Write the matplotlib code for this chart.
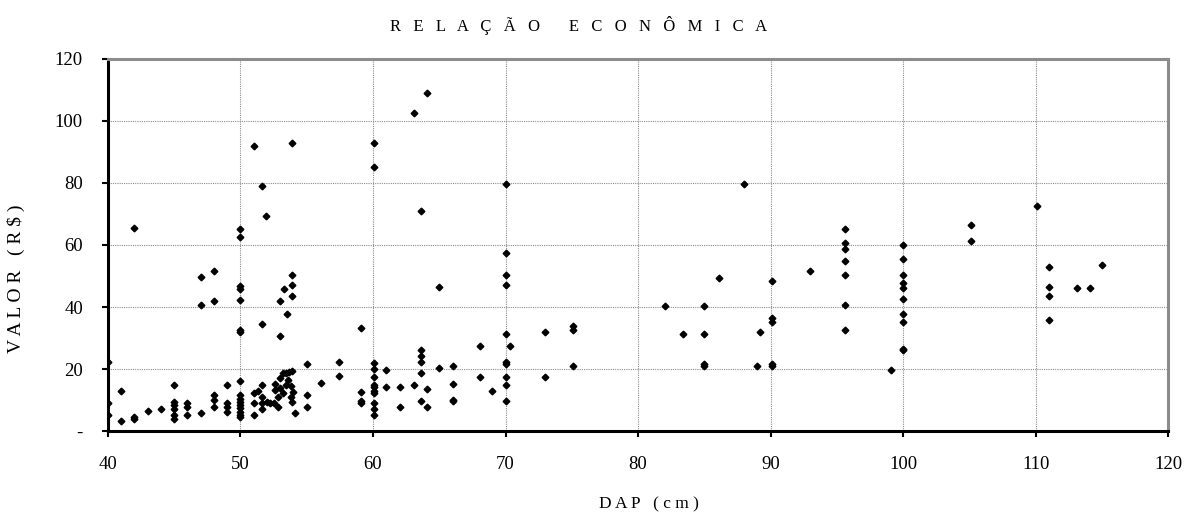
import matplotlib.pyplot as plt
import numpy as np

# DAP (cm) and VALOR (R$), grouped by diameter
dap = [40, 40, 40,
       41, 41,
       42, 42, 42,
       43, 44,
       45, 45, 45, 45, 45, 45,
       46, 46, 46,
       47, 47, 47,
       48, 48, 48, 48, 48,
       49, 49, 49, 49,
       50, 50, 50, 50, 50, 50, 50, 50, 50, 50, 50, 50, 50, 50, 50, 50,
       51, 51, 51, 51, 51.3,
       51.6, 51.6, 51.6, 51.6, 51.6, 51.6,
       51.9, 52.0, 52.2, 52.5, 52.6, 52.6, 52.8, 52.8,
       53.0, 53.0, 53.0, 53.0, 53.2, 53.2, 53.3, 53.4, 53.4, 53.5, 53.6,
       53.7, 53.8, 53.8,
       53.9, 53.9, 53.9, 53.9, 53.9, 53.9, 54.0, 54.1,
       55, 55, 55, 56.1, 57.4, 57.4,
       59.1, 59.1, 59.1, 59.1,
       60.1, 60.1, 60.1, 60.1, 60.1, 60.1, 60.1, 60.1, 60.1, 60.1, 60.1, 60.1,
       61, 61, 62, 62,
       63.1, 63.1,
       63.6, 63.6, 63.6, 63.6, 63.6, 63.6,
       64.1, 64.1, 64.1,
       65, 65,
       66, 66, 66, 66,
       68.1, 68.1, 69,
       70, 70, 70, 70, 70, 70, 70, 70, 70, 70, 70.3,
       73, 73, 75.1, 75.1, 75.1,
       82, 83.4, 85, 85, 85, 85, 86.1, 88, 89, 89.2,
       90.1, 90.1, 90.1, 90.1, 90.1,
       93,
       95.6, 95.6, 95.6, 95.6, 95.6, 95.6, 95.6,
       99.1,
       100, 100, 100, 100, 100, 100, 100, 100, 100, 100,
       105.1, 105.1, 110.1,
       111, 111, 111, 111,
       113.1, 114.1, 115]

valor = [22.4, 9.1, 5.2,
         12.8, 3.2,
         65.6, 4.4, 3.9,
         6.5, 7.0,
         14.9, 9.5, 8.4, 7.0, 5.2, 3.8,
         9.2, 7.9, 5.2,
         49.7, 40.8, 5.9,
         51.7, 42.1, 11.7, 10.0, 7.9,
         14.9, 9.2, 7.9, 6.2,
         65.0, 62.5, 46.7, 45.9, 42.2, 32.7, 31.8, 16.0, 11.7, 10.5, 9.5, 8.4, 7.4, 6.3, 5.2, 4.6,
         91.8, 12.4, 9.2, 5.3, 13.0,
         79.0, 34.5, 14.9, 11.1, 9.2, 7.2,
         69.5, 9.5, 9.2, 9.2, 15.3, 13.3, 11.1, 7.8,
         42.1, 30.7, 17.0, 13.8, 12.2, 18.7, 45.9, 14.9, 18.7, 37.8, 16.6,
         19.0, 14.5, 11.1,
         93.0, 50.4, 47.2, 43.5, 19.4, 9.5, 12.7, 5.9,
         21.7, 11.6, 7.8, 15.4, 22.4, 17.9,
         33.2, 12.7, 9.8, 9.2,
         93.0, 85.3, 21.8, 20.0, 17.4, 15.0, 14.1, 13.0, 12.4, 9.2, 7.1, 5.2,
         19.8, 14.1, 14.1, 7.7,
         102.6, 14.8,
         70.8, 26.2, 24.3, 22.3, 18.6, 9.6,
         109.0, 13.5, 7.8,
         46.6, 20.5,
         21.1, 15.3, 10.0, 9.6,
         27.5, 17.3, 12.8,
         79.6, 57.4, 50.4, 47.2, 31.3, 22.3, 21.7, 17.3, 14.8, 9.6, 27.5,
         31.9, 17.3, 33.9, 32.6, 21.0,
         40.2, 31.3, 40.2, 31.3, 21.7, 21.0, 49.2, 79.7, 21.0, 31.9,
         48.5, 36.5, 35.2, 21.7, 21.1,
         51.7,
         65.0, 60.6, 58.6, 54.8, 50.4, 40.8, 32.6,
         19.8,
         60.0, 55.6, 50.4, 47.9, 46.0, 42.7, 37.6, 35.2, 26.6, 26.2,
         66.3, 61.3, 72.7,
         53.0, 46.6, 43.4, 35.7,
         46.0, 46.0, 53.6]

x_ticks = [40, 50, 60, 70, 80, 90, 100, 110, 120]
y_ticks = [0, 20, 40, 60, 80, 100, 120]
y_tick_labels = ['-', '20', '40', '60', '80', '100', '120']

plt.rcParams['font.family'] = ['Liberation Serif', 'DejaVu Serif']

fig = plt.figure(figsize=(11.86, 5.12), dpi=100)
ax = fig.add_axes([0.091, 0.158, 0.894, 0.727])

ax.plot(dap, valor, linestyle='none', marker='D', markersize=3.4,
        color='black', zorder=3)

ax.set_xlim(40, 120)
ax.set_ylim(0, 120)
ax.set_xticks(x_ticks)
ax.set_yticks(y_ticks)
ax.set_yticklabels(y_tick_labels)

ax.grid(True, color='#8c8c8c', linestyle=(0, (1, 1)), linewidth=0.8)
ax.set_axisbelow(True)

for side in ['left', 'bottom']:
    ax.spines[side].set_linewidth(2.2)
    ax.spines[side].set_color('black')
for side in ['top', 'right']:
    ax.spines[side].set_linewidth(2.2)
    ax.spines[side].set_color('#8c8c8c')

ax.tick_params(axis='both', direction='out', length=4, width=1.5,
               labelsize=13.5, colors='black')
ax.tick_params(axis='x', pad=14)
ax.tick_params(axis='y', pad=14)

# spaced-out capitals as in the original spreadsheet chart
title = '   '.join('RELAÇÃO') + '       ' + '   '.join('ECONÔMICA')
fig.text(0.488, 0.951, title, fontsize=12, ha='center', va='center')

ax.set_xlabel('D A P   ( c m )', fontsize=12.5)
ax.xaxis.set_label_coords(0.51, -0.175)
ax.set_ylabel('V A L O R   ( R $ )', fontsize=14)
ax.yaxis.set_label_coords(-0.078, 0.41)

fig.savefig('out.png', dpi=100)
